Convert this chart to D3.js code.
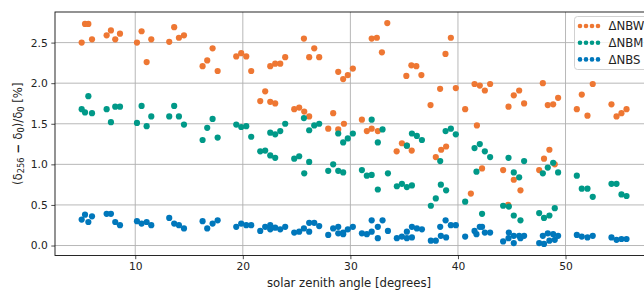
<!DOCTYPE html>
<html>
<head>
<meta charset="utf-8">
<script src="https://cdn.jsdelivr.net/npm/d3@7"></script>
<style>
  body { margin: 0; background: #fff; }
  text { font-family: "DejaVu Sans", sans-serif; fill: #222; }
</style>
</head>
<body>
<script>
// relative difference vs solar zenith angle, [zenith, value %]
const nbw = [[5.02,2.50],[5.33,2.73],[5.64,2.73],[5.98,2.54],[7.34,2.59],[7.74,2.65],[8.14,2.54],[8.58,2.61],[10.16,2.50],[10.59,2.64],[11.06,2.26],[11.49,2.54],[13.16,2.51],[13.62,2.69],[14.06,2.56],[14.53,2.59],[16.26,2.21],[16.69,2.28],[17.19,2.43],[17.66,2.15],[19.39,2.33],[19.85,2.37],[20.32,2.33],[20.78,2.15],[21.62,1.78],[22.08,1.90],[22.55,2.21],[22.55,1.77],[23.01,2.24],[23.01,1.75],[23.48,2.24],[23.94,2.32],[24.78,1.68],[25.24,1.70],[25.68,2.55],[25.71,1.65],[26.17,2.32],[26.17,1.59],[26.64,2.43],[27.10,2.32],[27.94,1.44],[28.40,1.63],[28.87,2.14],[28.87,1.43],[29.33,2.05],[29.40,1.50],[29.76,2.10],[30.23,2.18],[31.07,1.55],[31.53,1.41],[31.98,2.55],[31.98,1.44],[32.46,2.56],[32.55,1.41],[32.93,2.38],[33.43,2.74],[34.30,1.16],[34.79,1.26],[35.20,2.09],[35.25,1.23],[35.67,2.22],[35.70,1.17],[36.13,2.21],[36.60,2.10],[37.45,1.73],[37.94,1.09],[38.34,1.93],[38.44,1.18],[38.84,2.36],[38.90,1.22],[39.34,2.56],[39.80,1.94],[40.67,1.68],[41.20,0.64],[41.54,1.99],[41.76,1.48],[42.03,1.97],[42.24,0.95],[42.50,1.91],[42.99,1.99],[44.20,0.93],[44.67,0.50],[44.70,1.71],[45.19,1.85],[45.19,0.81],[45.69,1.91],[45.81,0.68],[46.15,1.75],[47.55,0.93],[47.89,2.00],[48.00,1.07],[48.35,1.73],[48.50,1.18],[48.85,1.74],[49.00,1.00],[49.31,1.82],[51.05,1.68],[51.51,1.86],[52.04,1.60],[52.53,1.99],[54.27,1.74],[54.74,1.59],[55.20,1.63],[55.67,1.68]];

const nbm = [[5.02,1.68],[5.33,1.64],[5.64,1.84],[5.98,1.63],[7.34,1.68],[7.74,1.52],[8.14,1.71],[8.58,1.71],[10.16,1.51],[10.59,1.72],[11.06,1.47],[11.49,1.59],[13.16,1.59],[13.62,1.72],[14.06,1.59],[14.53,1.49],[16.26,1.30],[16.69,1.45],[17.19,1.56],[17.66,1.33],[19.39,1.49],[19.85,1.46],[20.32,1.47],[20.78,1.34],[21.62,1.16],[22.08,1.17],[22.55,1.39],[22.55,1.11],[23.01,1.37],[23.01,1.08],[23.48,1.41],[23.94,1.50],[24.78,1.07],[25.24,1.10],[25.68,1.57],[25.71,0.89],[26.17,1.42],[26.17,1.03],[26.64,1.48],[27.10,1.50],[27.94,0.92],[28.40,1.00],[28.87,1.38],[28.87,0.92],[29.33,1.27],[29.33,0.90],[29.76,1.32],[30.23,1.38],[31.07,0.93],[31.53,0.86],[31.98,1.55],[31.98,0.87],[32.55,1.27],[32.55,0.69],[32.99,1.43],[33.49,0.89],[34.32,0.73],[34.79,0.76],[35.25,1.23],[35.25,0.72],[35.72,1.38],[35.72,0.74],[36.18,1.35],[36.65,1.30],[37.48,0.49],[37.94,0.58],[38.35,1.04],[38.41,0.75],[38.85,1.41],[38.90,0.68],[39.34,1.44],[39.80,1.37],[40.67,0.54],[41.54,1.20],[41.72,0.91],[42.03,1.25],[42.24,0.39],[42.50,1.16],[42.99,1.09],[44.20,0.49],[44.70,1.08],[44.73,0.48],[45.19,0.90],[45.19,0.37],[45.69,0.84],[45.81,0.31],[46.15,1.04],[47.55,0.40],[47.89,0.89],[48.00,0.34],[48.35,0.96],[48.50,0.37],[48.85,1.02],[49.00,0.46],[49.31,0.90],[51.05,0.86],[51.51,0.70],[52.04,0.70],[52.53,0.60],[54.27,0.76],[54.74,0.76],[55.20,0.63],[55.67,0.61]];

const nbs = [[5.02,0.32],[5.33,0.38],[5.64,0.29],[5.98,0.36],[7.34,0.39],[7.74,0.39],[8.14,0.29],[8.58,0.25],[10.16,0.30],[10.59,0.27],[11.06,0.29],[11.49,0.25],[13.16,0.34],[13.62,0.27],[14.06,0.25],[14.53,0.21],[16.26,0.30],[16.69,0.21],[17.19,0.27],[17.66,0.31],[19.39,0.23],[19.85,0.27],[20.32,0.25],[20.78,0.25],[21.62,0.18],[22.08,0.23],[22.55,0.25],[22.55,0.20],[23.01,0.22],[23.48,0.20],[23.94,0.23],[24.78,0.16],[25.24,0.17],[25.68,0.21],[26.17,0.28],[26.17,0.17],[26.64,0.28],[27.10,0.24],[27.94,0.13],[28.40,0.21],[28.87,0.23],[28.87,0.15],[29.33,0.14],[29.33,0.16],[29.76,0.20],[30.23,0.23],[31.07,0.15],[31.53,0.14],[31.98,0.31],[31.98,0.17],[32.55,0.23],[32.55,0.09],[32.99,0.31],[33.49,0.18],[34.32,0.09],[34.79,0.11],[35.25,0.17],[35.25,0.09],[35.72,0.23],[35.72,0.10],[36.18,0.21],[36.65,0.20],[37.48,0.06],[37.94,0.06],[38.35,0.23],[38.41,0.12],[38.85,0.31],[38.90,0.10],[39.34,0.25],[39.80,0.25],[40.67,0.11],[41.54,0.18],[41.72,0.14],[42.03,0.23],[42.24,0.23],[42.50,0.16],[42.99,0.16],[44.20,0.05],[44.70,0.09],[44.73,0.16],[45.19,0.12],[45.19,0.03],[45.69,0.12],[45.81,0.09],[46.15,0.12],[47.55,0.03],[47.89,0.12],[48.00,0.02],[48.35,0.15],[48.50,0.06],[48.85,0.14],[49.00,0.07],[49.31,0.12],[51.05,0.13],[51.51,0.11],[52.04,0.10],[52.53,0.12],[54.27,0.10],[54.74,0.07],[55.20,0.08],[55.67,0.08]];

const seriesNames = ["ΔNBW", "ΔNBM", "ΔNBS"];
const seriesColors = ["#EE7733", "#009988", "#0077BB"];
const xTicks = [10, 20, 30, 40, 50];
const yTicks = [0, 0.5, 1.0, 1.5, 2.0, 2.5];

const svgWidth = 644;
const svgHeight = 290;
// the figure is cropped on the right, so the plot runs past the edge
const margin = { top: 12, right: -4, bottom: 34.5, left: 55 };
const width = svgWidth - margin.left - margin.right;
const height = svgHeight - margin.top - margin.bottom;

let svg = d3.select("body").append("svg")
    .attr("width", svgWidth)
    .attr("height", svgHeight);

let chartGroup = svg.append("g")
    .attr("transform", `translate(${margin.left}, ${margin.top})`);

const xScale = d3.scaleLinear().domain([2.54, 2.54 + width / 10.757]).range([0, width]);
const yScale = d3.scaleLinear().domain([-0.123, 2.877]).range([height, 0]);

// grid lines
chartGroup.append("g").selectAll("line").data(xTicks).enter().append("line")
    .attr("x1", d => xScale(d)).attr("x2", d => xScale(d))
    .attr("y1", 0).attr("y2", height)
    .attr("stroke", "#b0b0b0").attr("stroke-width", 0.9);
chartGroup.append("g").selectAll("line").data(yTicks).enter().append("line")
    .attr("y1", d => yScale(d)).attr("y2", d => yScale(d))
    .attr("x1", 0).attr("x2", width)
    .attr("stroke", "#b0b0b0").attr("stroke-width", 0.9);

// axes
let xAxis = chartGroup.append("g")
    .attr("transform", `translate(0, ${height})`)
    .call(d3.axisBottom(xScale).tickValues(xTicks).tickSize(3.7).tickPadding(3.5).tickFormat(d3.format("d")));
let yAxis = chartGroup.append("g")
    .call(d3.axisLeft(yScale).tickValues(yTicks).tickSize(3.7).tickPadding(3.5).tickFormat(d3.format(".1f")));
[xAxis, yAxis].forEach(a => {
    a.select(".domain").remove();
    a.selectAll("line").attr("stroke", "#222").attr("stroke-width", 0.8);
    a.selectAll("text").style("font-size", "10.7px").attr("fill", "#222");
});

// frame
chartGroup.append("rect")
    .attr("x", 0).attr("y", 0).attr("width", width).attr("height", height)
    .attr("fill", "none").attr("stroke", "#111").attr("stroke-width", 0.9);

// points
[nbw, nbm, nbs].forEach((data, i) => {
    chartGroup.append("g").selectAll("circle").data(data).enter().append("circle")
        .attr("cx", d => xScale(d[0]))
        .attr("cy", d => yScale(d[1]))
        .attr("r", 3.1)
        .attr("fill", seriesColors[i]);
});

// axis labels
svg.append("text")
    .attr("x", 349)
    .attr("y", 287)
    .attr("text-anchor", "middle")
    .style("font-size", "11.7px")
    .text("solar zenith angle [degrees]");

let yLabel = svg.append("text")
    .attr("transform", `translate(22, ${margin.top + height / 2}) rotate(-90)`)
    .attr("text-anchor", "middle")
    .style("font-size", "11.7px");
yLabel.append("tspan").text("(δ");
yLabel.append("tspan").attr("baseline-shift", "-25%").style("font-size", "8.2px").text("256");
yLabel.append("tspan").style("font-weight", "bold").text(" − ");
yLabel.append("tspan").text("δ");
yLabel.append("tspan").attr("baseline-shift", "-25%").style("font-size", "8.2px").text("0");
yLabel.append("tspan").text(")/δ");
yLabel.append("tspan").attr("baseline-shift", "-25%").style("font-size", "8.2px").text("0");
yLabel.append("tspan").text(" [%]");

// legend
let legend = svg.append("g");
legend.append("rect")
    .attr("x", 574.5).attr("y", 16.5).attr("width", 100).attr("height", 53)
    .attr("rx", 3)
    .attr("fill", "white").attr("fill-opacity", 0.8)
    .attr("stroke", "#cccccc").attr("stroke-width", 0.9);
seriesNames.forEach((name, i) => {
    const rowY = 26 + i * 16.7;
    legend.append("g").selectAll("circle").data([0, 1, 2, 3]).enter().append("circle")
        .attr("cx", d => 580 + d * 6)
        .attr("cy", rowY)
        .attr("r", 2.3)
        .attr("fill", seriesColors[i]);
    legend.append("text")
        .attr("x", 608.5)
        .attr("y", rowY + 4.2)
        .style("font-size", "11.7px")
        .text(name);
});
</script>
</body>
</html>
